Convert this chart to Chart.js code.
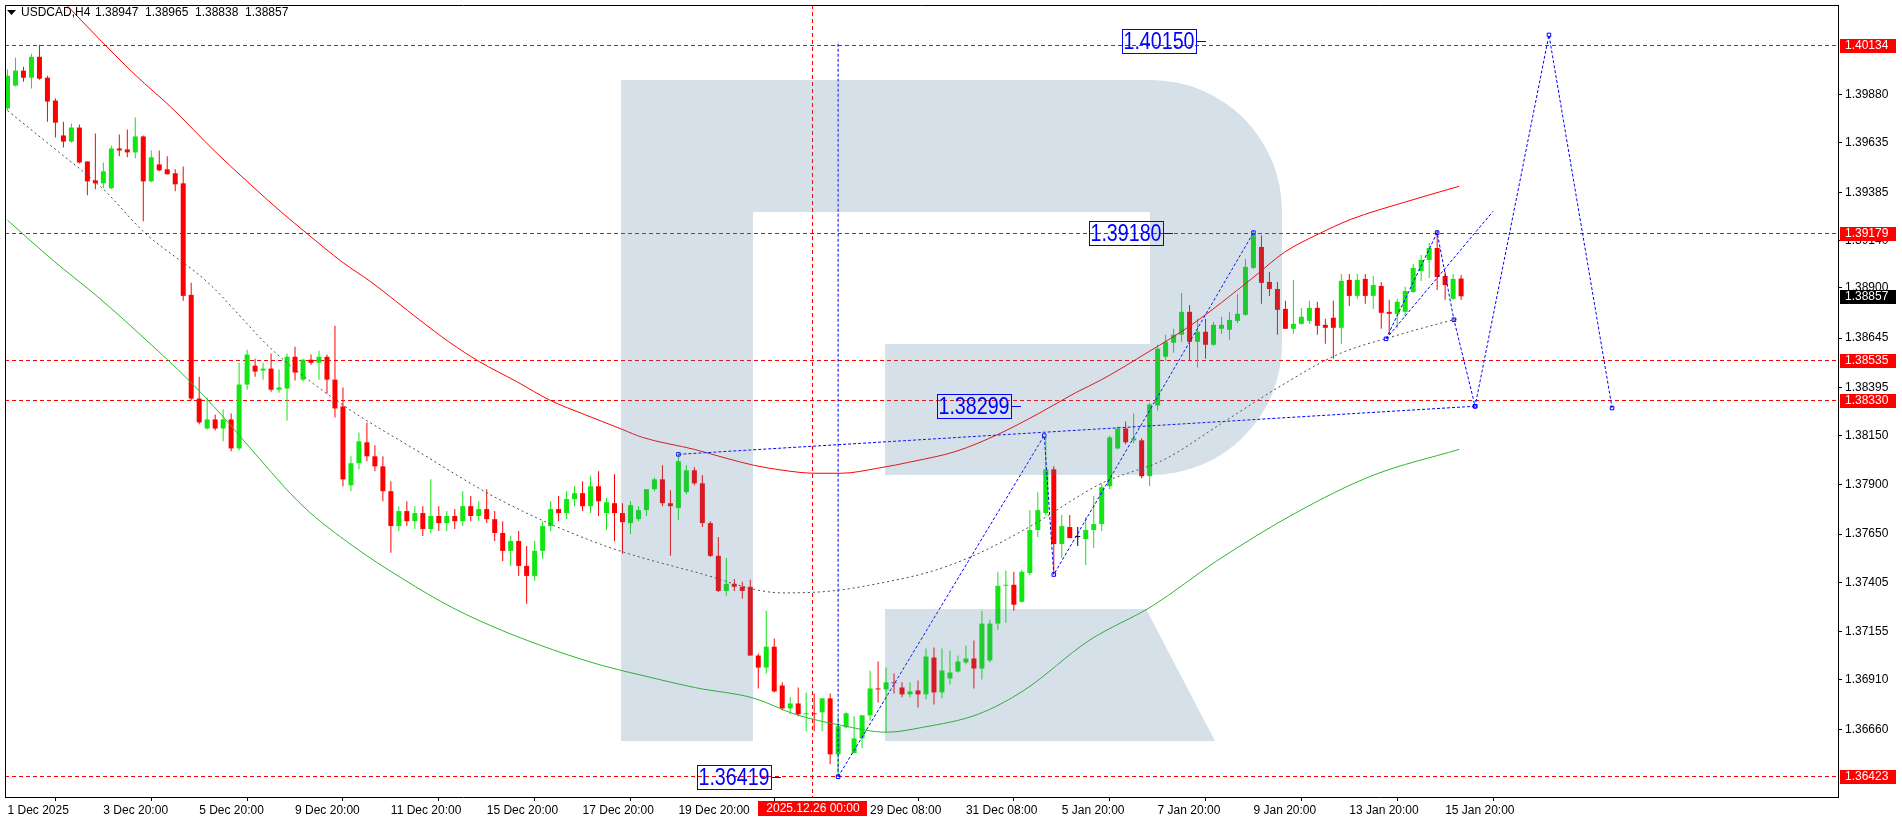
<!DOCTYPE html>
<html>
<head>
<meta charset="utf-8">
<title>USDCAD,H4</title>
<script src="https://cdn.jsdelivr.net/npm/chart.js@4.4.1/dist/chart.umd.min.js"></script>
<style>
  html, body { margin: 0; padding: 0; background: #fff; overflow: hidden; }
  canvas { display: block; }
</style>
</head>
<body>
<canvas id="chart" width="1902" height="821"></canvas>
<script>
// USDCAD H4 candles, bar 0 = 1 Dec 20:00, one bar = 4 hours
const opens = [
  1.39810,1.39926,1.40002,1.39966,1.40072,1.39966,1.39850,1.39673,1.39642,1.39713,
  1.39541,1.39445,1.39430,1.39405,1.39607,1.39602,1.39587,1.39668,1.39440,1.39526,
  1.39501,1.39481,1.39430,1.38864,1.38338,1.38186,1.38232,1.38186,1.38232,1.38085,
  1.38409,1.38505,1.38480,1.38490,1.38383,1.38389,1.38550,1.38434,1.38535,1.38520,
  1.38550,1.38434,1.38298,1.37898,1.38010,1.38116,1.38045,1.37994,1.37868,1.37691,
  1.37767,1.37716,1.37757,1.37676,1.37742,1.37706,1.37742,1.37716,1.37792,1.37742,
  1.37777,1.37726,1.37656,1.37565,1.37615,1.37489,1.37438,1.37565,1.37691,1.37777,
  1.37757,1.37828,1.37858,1.37792,1.37893,1.37757,1.37807,1.37757,1.37706,1.37726,
  1.37772,1.37878,1.37928,1.37807,1.37782,1.37863,1.37974,1.37908,1.37706,1.37540,
  1.37362,1.37398,1.37383,1.37383,1.37034,1.36973,1.37079,1.36882,1.36766,1.36791,
  1.36736,1.36741,1.36746,1.36817,1.36533,1.36670,1.36539,1.36614,1.36731,1.36867,
  1.36862,1.36898,1.36872,1.36837,1.36857,1.36837,1.37024,1.36847,1.36918,1.36953,
  1.36999,1.37019,1.36968,1.37009,1.37196,1.37388,1.37393,1.37307,1.37453,1.37671,
  1.37757,1.37979,1.37600,1.37686,1.37635,1.37625,1.37671,1.37701,1.37893,1.38085,
  1.38186,1.38126,1.38126,1.37944,1.38303,1.38550,1.38621,1.38662,1.38778,1.38626,
  1.38677,1.38611,1.38692,1.38687,1.38732,1.38763,1.39001,1.39107,1.38930,1.38894,
  1.38793,1.38692,1.38717,1.38732,1.38798,1.38712,1.38748,1.38697,1.38940,1.38859,
  1.38945,1.38859,1.38909,1.38778,1.38768,1.38778,1.38879,1.38985,1.39041,1.39102,
  1.38960,1.38844,1.38947
];
const highs = [
  1.40007,1.40067,1.40022,1.40087,1.40133,1.39976,1.39860,1.39743,1.39733,1.39728,
  1.39541,1.39683,1.39536,1.39622,1.39678,1.39703,1.39764,1.39673,1.39597,1.39597,
  1.39567,1.39501,1.39516,1.38925,1.38449,1.38343,1.38257,1.38282,1.38262,1.38520,
  1.38586,1.38540,1.38520,1.38566,1.38485,1.38566,1.38601,1.38540,1.38561,1.38581,
  1.38561,1.38707,1.38394,1.38045,1.38166,1.38217,1.38101,1.38045,1.37918,1.37792,
  1.37817,1.37792,1.37792,1.37928,1.37792,1.37767,1.37777,1.37868,1.37843,1.37817,
  1.37878,1.37767,1.37716,1.37640,1.37666,1.37590,1.37615,1.37716,1.37817,1.37843,
  1.37868,1.37893,1.37918,1.37944,1.37969,1.37833,1.37954,1.37807,1.37817,1.37792,
  1.37878,1.37938,1.37999,1.37873,1.38055,1.37999,1.37989,1.37949,1.37716,1.37636,
  1.37529,1.37423,1.37408,1.37418,1.37044,1.37261,1.37120,1.36898,1.36822,1.36872,
  1.36847,1.36842,1.36817,1.36842,1.36721,1.36746,1.36726,1.36731,1.36958,1.37004,
  1.36973,1.36943,1.36898,1.36898,1.36908,1.37070,1.37075,1.37070,1.37059,1.37034,
  1.37085,1.37110,1.37261,1.37216,1.37459,1.37464,1.37459,1.37469,1.37772,1.37863,
  1.38141,1.37994,1.37747,1.37747,1.37686,1.37737,1.37843,1.37908,1.38151,1.38196,
  1.38222,1.38262,1.38136,1.38318,1.38611,1.38662,1.38692,1.38874,1.38813,1.38743,
  1.38743,1.38727,1.38753,1.38778,1.38869,1.39046,1.39193,1.39167,1.38980,1.38930,
  1.38834,1.38940,1.38798,1.38834,1.38829,1.38743,1.38834,1.38970,1.38970,1.38970,
  1.38970,1.38960,1.38930,1.38839,1.38844,1.38905,1.39021,1.39066,1.39127,1.39193,
  1.38980,1.38970,1.38965
];
const lows = [
  1.39800,1.39921,1.39946,1.39911,1.39956,1.39743,1.39662,1.39612,1.39637,1.39531,
  1.39370,1.39400,1.39405,1.39400,1.39567,1.39562,1.39557,1.39238,1.39435,1.39491,
  1.39476,1.39390,1.38834,1.38328,1.38207,1.38181,1.38176,1.38121,1.38070,1.38075,
  1.38383,1.38449,1.38434,1.38373,1.38368,1.38227,1.38429,1.38424,1.38510,1.38434,
  1.38363,1.38242,1.37893,1.37868,1.37979,1.38020,1.37969,1.37817,1.37555,1.37666,
  1.37691,1.37676,1.37640,1.37656,1.37666,1.37666,1.37676,1.37691,1.37716,1.37716,
  1.37706,1.37615,1.37514,1.37489,1.37438,1.37297,1.37413,1.37525,1.37666,1.37716,
  1.37727,1.37792,1.37767,1.37757,1.37742,1.37671,1.37615,1.37550,1.37651,1.37716,
  1.37742,1.37868,1.37792,1.37540,1.37721,1.37853,1.37898,1.37686,1.37534,1.37357,
  1.37337,1.37362,1.37322,1.37034,1.36867,1.36943,1.36847,1.36756,1.36736,1.36726,
  1.36650,1.36650,1.36650,1.36483,1.36419,1.36665,1.36539,1.36564,1.36705,1.36796,
  1.36645,1.36842,1.36822,1.36822,1.36771,1.36812,1.36786,1.36817,1.36887,1.36948,
  1.36989,1.36867,1.36913,1.36999,1.37165,1.37201,1.37261,1.37302,1.37443,1.37635,
  1.37747,1.37453,1.37529,1.37630,1.37590,1.37494,1.37580,1.37666,1.37878,1.38080,
  1.38106,1.38111,1.37934,1.37893,1.38277,1.38530,1.38571,1.38626,1.38530,1.38495,
  1.38540,1.38606,1.38667,1.38636,1.38722,1.38758,1.38996,1.38819,1.38859,1.38662,
  1.38692,1.38667,1.38712,1.38717,1.38662,1.38616,1.38540,1.38616,1.38808,1.38844,
  1.38819,1.38793,1.38692,1.38662,1.38697,1.38753,1.38874,1.38935,1.38950,1.38889,
  1.38839,1.38839,1.38838
];
const closes = [
  1.39976,1.40002,1.39966,1.40072,1.39961,1.39845,1.39738,1.39642,1.39713,1.39536,
  1.39440,1.39430,1.39491,1.39607,1.39597,1.39587,1.39668,1.39440,1.39562,1.39496,
  1.39476,1.39425,1.38859,1.38338,1.38217,1.38232,1.38186,1.38232,1.38085,1.38409,
  1.38561,1.38475,1.38490,1.38383,1.38394,1.38550,1.38470,1.38535,1.38520,1.38550,
  1.38434,1.38288,1.37928,1.38010,1.38121,1.38045,1.37994,1.37868,1.37691,1.37767,
  1.37716,1.37757,1.37676,1.37742,1.37706,1.37742,1.37716,1.37792,1.37742,1.37777,
  1.37726,1.37656,1.37565,1.37615,1.37489,1.37438,1.37565,1.37691,1.37777,1.37757,
  1.37828,1.37858,1.37792,1.37893,1.37817,1.37812,1.37757,1.37711,1.37797,1.37772,
  1.37878,1.37928,1.37807,1.37792,1.38020,1.37974,1.37908,1.37706,1.37540,1.37362,
  1.37398,1.37383,1.37362,1.37034,1.36973,1.37079,1.36852,1.36766,1.36791,1.36736,
  1.36741,1.36736,1.36817,1.36533,1.36675,1.36741,1.36614,1.36731,1.36867,1.36862,
  1.36898,1.36893,1.36837,1.36852,1.36837,1.37029,1.36847,1.36958,1.36948,1.37004,
  1.37019,1.36968,1.37196,1.37196,1.37388,1.37393,1.37292,1.37459,1.37671,1.37772,
  1.37979,1.37600,1.37691,1.37630,1.37635,1.37671,1.37701,1.37888,1.38141,1.38186,
  1.38116,1.38136,1.37944,1.38308,1.38591,1.38626,1.38662,1.38778,1.38626,1.38677,
  1.38611,1.38712,1.38712,1.38737,1.38768,1.39006,1.39167,1.38925,1.38894,1.38788,
  1.38692,1.38717,1.38753,1.38798,1.38707,1.38697,1.38697,1.38935,1.38859,1.38940,
  1.38859,1.38914,1.38773,1.38768,1.38829,1.38884,1.39001,1.39041,1.39102,1.38955,
  1.38914,1.38945,1.38857
];

// time axis labels (bar index -> text)
const tickIdx = [0, 12, 24, 36, 48, 60, 72, 84, 108, 120, 132, 144, 156, 168, 180];
const tickLabels = ["1 Dec 2025", "3 Dec 20:00", "5 Dec 20:00", "9 Dec 20:00", "11 Dec 20:00",
  "15 Dec 20:00", "17 Dec 20:00", "19 Dec 20:00", "29 Dec 08:00", "31 Dec 08:00",
  "5 Jan 20:00", "7 Jan 20:00", "9 Jan 20:00", "13 Jan 20:00", "15 Jan 20:00"];
const priceTicks = [1.39880, 1.39635, 1.39385, 1.39140, 1.38900, 1.38645, 1.38395,
  1.38150, 1.37900, 1.37650, 1.37405, 1.37155, 1.36910, 1.36660];

// indicator curves, read at sample bars
const redMaIdx = [7.4, 10.75, 16.1, 20.4, 26.1, 30.4, 34, 37.6, 41.9, 45.5, 51.6, 55.25, 59.1, 63.75, 68,
  72.25, 77, 79.5, 86, 90, 93.5, 97.1, 101.1, 104.4, 108.9, 113.5, 118.75, 124, 129.1, 133.75, 137,
  142.9, 148.25, 155.75, 159.9, 164.1, 168.25, 174.9, 181.75];
const redMaVal = [1.40335, 1.40193, 1.39976, 1.39819, 1.39587, 1.39425, 1.39294, 1.39172, 1.39031, 1.38930,
  1.38737, 1.38626, 1.38525, 1.38424, 1.38328, 1.38257, 1.38181, 1.38141, 1.38080, 1.38035, 1.37999,
  1.37974, 1.37959, 1.37959, 1.37984, 1.38020, 1.38070, 1.38156, 1.38262, 1.38368, 1.38434, 1.38576,
  1.38712, 1.38945, 1.39081, 1.39172, 1.39248, 1.39334, 1.39415];
const greenMaIdx = [0, 5.5, 11.6, 17.6, 22.5, 26.75, 30.75, 37, 43.25, 49.5, 55.75, 62, 68.25, 74.5, 79.5,
  86, 93.5, 98.6, 104.4, 110.1, 114.6, 121.5, 127.25, 135.4, 143.4, 151.4, 161.25, 171, 181.75];
const greenMaVal = [1.39243, 1.39046, 1.38844, 1.38626, 1.38439, 1.38257, 1.38070, 1.37792, 1.37590, 1.37423,
  1.37276, 1.37160, 1.37064, 1.36983, 1.36933, 1.36872, 1.36817, 1.36736, 1.36680, 1.36645, 1.36670,
  1.36736, 1.36857, 1.37110, 1.37287, 1.37514, 1.37757, 1.37949, 1.38080];
const grayIdx = [0, 5.4, 12, 17.1, 25, 33.4, 41.9, 51, 62, 74.5, 86, 97.1, 103.25, 110.1, 115.9, 121.4,
  127.9, 137, 144.9, 152, 159.9, 166.5, 174.25, 181.5];
const grayVal = [1.39799, 1.39622, 1.39400, 1.39182, 1.38930, 1.38576, 1.38308, 1.38080, 1.37817, 1.37595,
  1.37459, 1.37352, 1.37362, 1.37408, 1.37464, 1.37549, 1.37686, 1.37908, 1.38030, 1.38212, 1.38414,
  1.38561, 1.38662, 1.38743];

// forecast drawing (blue)
const vertIdx = [104, 104],            vertVal = [1.36419, 1.40150];
const trendIdx = [84, 183.75],         trendVal = [1.38055, 1.38299];
const waveAIdx = [104, 129.8, 131, 156], waveAVal = [1.36419, 1.38150, 1.37445, 1.39180];
const waveBIdx = [172.6, 179, 181.1, 183.75, 193, 200.9];
const waveBVal = [1.38641, 1.39180, 1.38738, 1.38299, 1.40183, 1.38290];
const rayIdx = [172.6, 186],           rayVal = [1.38641, 1.39288];

// horizontal levels, text marks, crosshair
const levels = [1.40134, 1.39179, 1.38535, 1.38330, 1.36423];
const markVal = [1.40150, 1.39180, 1.38299, 1.36419];
const markIdx = [150.06, 145.9, 126.9, 96.8];
const crossIdx = 100.75, crossLabel = "2025.12.26 00:00";

const BULL = "#12e612", BEAR = "#ff0000", BLUE = "#0000ff";
const FONT = '"Liberation Sans", Arial, sans-serif';

const barColor = opens.map((o, i) => closes[i] > o ? BULL : closes[i] < o ? BEAR : "#000000");
const pts = (xs, ys) => xs.map((x, k) => ({ x, y: ys[k] }));

const lineSet = (xs, ys, color, extra) => Object.assign({
  type: "line", data: pts(xs, ys), borderColor: color, borderWidth: 1,
  pointRadius: 0, tension: 0, fill: false, order: -1
}, extra || {});

const blueSet = (xs, ys, marks) => lineSet(xs, ys, BLUE, {
  borderDash: [3, 2], pointRadius: marks ? 2.5 : 0, pointStyle: "rect",
  pointBorderColor: BLUE, pointBackgroundColor: "rgba(0,0,0,0)", pointBorderWidth: 1, order: -2
});

const decor = {
  id: "decor",
  beforeDatasetsDraw(chart) {
    const { ctx, chartArea: a, scales: { x, y } } = chart;
    ctx.save();
    ctx.beginPath(); ctx.rect(a.left, a.top, a.right - a.left, a.bottom - a.top); ctx.clip();
    ctx.strokeStyle = "#ff0000"; ctx.lineWidth = 1; ctx.setLineDash([4, 3]);
    levels.forEach(v => {
      const py = Math.round(y.getPixelForValue(v)) + 0.5;
      ctx.beginPath(); ctx.moveTo(a.left, py); ctx.lineTo(a.right, py); ctx.stroke();
    });
    const px = Math.round(x.getPixelForValue(crossIdx)) + 0.5;
    ctx.beginPath(); ctx.moveTo(px, a.top); ctx.lineTo(px, a.bottom); ctx.stroke();
    ctx.restore();
  },
  afterDatasetsDraw(chart) {
    // logo watermark, translucent over the chart
    const { ctx } = chart;
    ctx.save();
    ctx.fillStyle = "rgba(74,122,157,0.23)";
    ctx.beginPath();
    ctx.moveTo(621, 80); ctx.lineTo(1151, 80);
    ctx.arc(1151, 211, 131, -Math.PI / 2, 0);
    ctx.lineTo(1282, 344);
    ctx.arc(1151, 344, 131, 0, Math.PI / 2);
    ctx.lineTo(885, 475); ctx.lineTo(885, 344); ctx.lineTo(1150, 344); ctx.lineTo(1150, 212);
    ctx.lineTo(753, 212); ctx.lineTo(753, 741); ctx.lineTo(621, 741); ctx.closePath();
    ctx.moveTo(885, 609); ctx.lineTo(1146, 609); ctx.lineTo(1215, 741); ctx.lineTo(885, 741); ctx.closePath();
    ctx.fill();
    ctx.restore();
  },
  afterDraw(chart) {
    const { ctx, chartArea: a, scales: { x, y } } = chart;
    ctx.save();
    // frame top / left
    ctx.strokeStyle = "#000"; ctx.lineWidth = 1;
    ctx.beginPath();
    ctx.moveTo(a.left + 0.5, a.bottom); ctx.lineTo(a.left + 0.5, a.top + 0.5); ctx.lineTo(a.right, a.top + 0.5);
    ctx.stroke();

    // blue price marks
    markVal.forEach((v, k) => {
      const tx = Math.round(x.getPixelForValue(markIdx[k]));
      const ty = Math.round(y.getPixelForValue(v));
      const right = tx - 10, w = 74, h = 24;
      ctx.strokeStyle = BLUE; ctx.lineWidth = 1;
      ctx.strokeRect(right - w + 0.5, ty - h / 2 + 0.5, w, h);
      ctx.beginPath(); ctx.moveTo(right, ty + 0.5); ctx.lineTo(tx, ty + 0.5); ctx.stroke();
      ctx.save();
      ctx.translate(right - w / 2, ty + 1);
      ctx.scale(0.82, 1);
      ctx.font = "24px " + FONT; ctx.fillStyle = BLUE;
      ctx.textAlign = "center"; ctx.textBaseline = "middle";
      ctx.fillText(v.toFixed(5), 0, 0);
      ctx.restore();
    });

    // right axis price boxes
    ctx.font = "12px " + FONT; ctx.textBaseline = "middle"; ctx.textAlign = "left";
    const box = (v, bg) => {
      const py = Math.round(y.getPixelForValue(v));
      ctx.fillStyle = bg; ctx.fillRect(a.right + 2, py - 6, 56, 14);
      ctx.fillStyle = "#fff"; ctx.fillText(v.toFixed(5), a.right + 7, py + 1);
    };
    levels.forEach(v => box(v, "#ff0000"));
    box(closes[closes.length - 1], "#000000");

    // crosshair time box
    const cx = Math.round(x.getPixelForValue(crossIdx));
    ctx.fillStyle = "#ff0000"; ctx.fillRect(cx - 54, a.bottom + 4, 109, 15);
    ctx.fillStyle = "#fff"; ctx.textAlign = "center";
    ctx.fillText(crossLabel, cx + 1, a.bottom + 12);

    // title
    ctx.fillStyle = "#000";
    ctx.beginPath(); ctx.moveTo(7, 10); ctx.lineTo(16, 10); ctx.lineTo(11.5, 15); ctx.closePath(); ctx.fill();
    ctx.textAlign = "left";
    ctx.fillText("USDCAD,H4", 21, 13);
    const n = closes.length - 1;
    [opens[n], highs[n], lows[n], closes[n]].forEach((v, k) => ctx.fillText(v.toFixed(5), 95 + k * 50, 13));
    ctx.restore();
  }
};

const idx = opens.map((_, i) => i);

new Chart(document.getElementById("chart"), {
  type: "bar",
  data: {
    datasets: [
      { label: "body", data: idx.map(i => ({ x: i, y: [opens[i], closes[i]] })), backgroundColor: barColor,
        barThickness: 5, grouped: false, minBarLength: 1, inflateAmount: 0, borderWidth: 0, order: 1 },
      { label: "wick", data: idx.map(i => ({ x: i, y: [lows[i], highs[i]] })), backgroundColor: barColor,
        barThickness: 1, grouped: false, minBarLength: 1, inflateAmount: 0, borderWidth: 0, order: 2 },
      lineSet(redMaIdx, redMaVal, "#ff0000", { cubicInterpolationMode: "monotone" }),
      lineSet(greenMaIdx, greenMaVal, "#2cb82c", { cubicInterpolationMode: "monotone" }),
      lineSet(grayIdx, grayVal, "#4a4a4a", { cubicInterpolationMode: "monotone", borderDash: [2, 3] }),
      blueSet(vertIdx, vertVal, false),
      blueSet(trendIdx, trendVal, true),
      blueSet(waveAIdx, waveAVal, true),
      blueSet(waveBIdx, waveBVal, true),
      blueSet(rayIdx, rayVal, false)
    ]
  },
  options: {
    responsive: false,
    animation: false,
    devicePixelRatio: 1,
    layout: { padding: { left: 2, top: 2, right: 0, bottom: 0 } },
    plugins: { legend: { display: false }, tooltip: { enabled: false } },
    scales: {
      x: {
        type: "linear", offset: false, min: -0.3125, max: 229.1875,
        afterBuildTicks: s => { s.ticks = tickIdx.map(v => ({ value: v })); },
        afterFit: s => { s.height = 24; s.paddingLeft = 0; s.paddingRight = 0; },
        grid: { drawOnChartArea: false, drawTicks: true, tickLength: 4, color: "#000" },
        border: { display: true, color: "#000" },
        ticks: { autoSkip: false, maxRotation: 0, align: "start", padding: 2, color: "#000",
                 font: { family: FONT, size: 12 },
                 callback: v => { const k = tickIdx.indexOf(v); return k < 0 ? "" : tickLabels[k]; } }
      },
      y: {
        type: "linear", position: "right", min: 1.363163, max: 1.403349,
        afterBuildTicks: s => { s.ticks = priceTicks.map(v => ({ value: v })); },
        afterFit: s => { s.width = 64; s.paddingTop = 0; s.paddingBottom = 0; },
        grid: { drawOnChartArea: false, drawTicks: true, tickLength: 4, color: "#000" },
        border: { display: true, color: "#000" },
        ticks: { padding: 3, color: "#000", font: { family: FONT, size: 12 },
                 callback: v => Number(v).toFixed(5) }
      }
    }
  },
  plugins: [decor]
});
</script>
</body>
</html>
